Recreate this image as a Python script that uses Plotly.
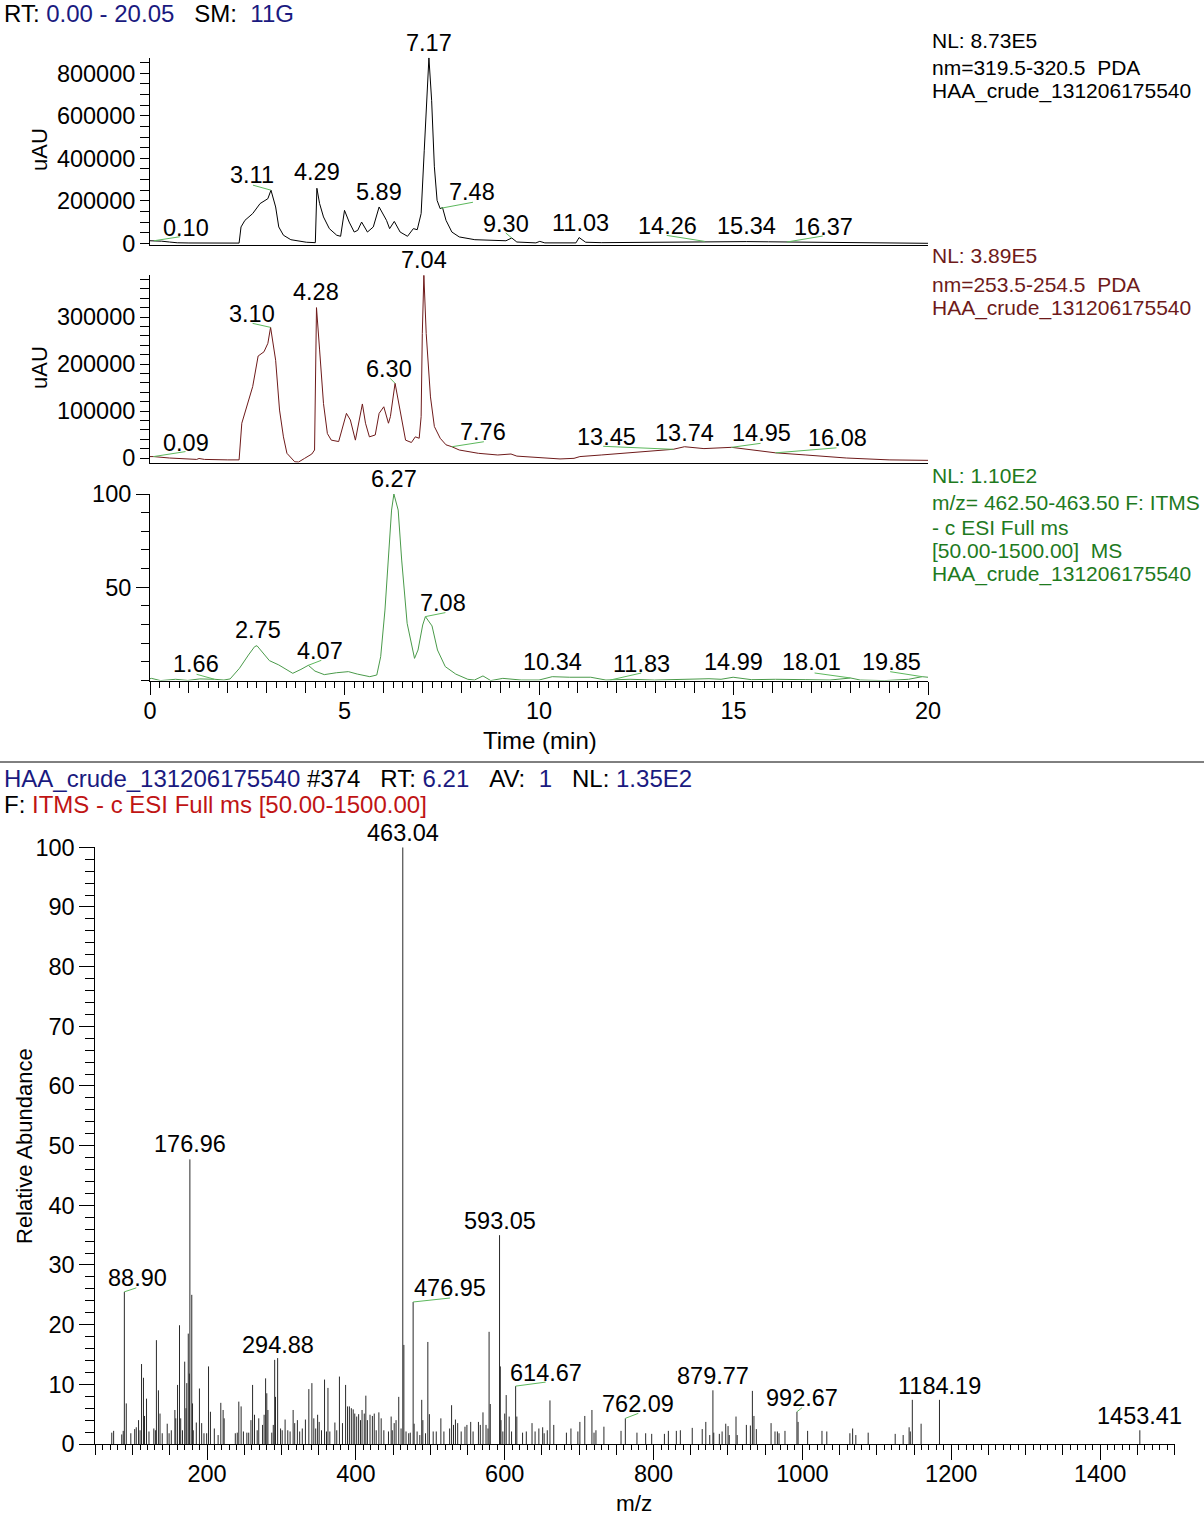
import plotly.graph_objects as go

W, H = 1204, 1523

# ---------------- data ----------------
# PDA 319.5-320.5 nm chromatogram (time min, intensity uAU)
uv320_t = [0.00, 0.10, 0.30, 0.50, 0.70, 1.00, 1.50, 2.00, 2.29, 2.34, 2.44, 2.64, 2.83, 3.03, 3.11,
           3.23, 3.31, 3.43, 3.62, 4.02, 4.25, 4.29, 4.36, 4.46, 4.61, 4.80, 4.90, 5.00, 5.12, 5.25,
           5.34, 5.44, 5.59, 5.74, 5.89, 6.08, 6.16, 6.28, 6.43, 6.62, 6.77, 6.87, 6.97, 7.05, 7.12,
           7.17, 7.24, 7.31, 7.38, 7.46, 7.52, 7.61, 7.76, 7.95, 8.35, 8.94, 9.15, 9.30, 9.43, 9.92,
           10.02, 10.15, 10.95, 11.03, 11.20, 11.60, 12.50, 13.50, 14.26, 14.80, 15.34, 15.90, 16.37,
           17.00, 18.00, 19.00, 20.00]
uv320_i = [12000, 12000, 10000, 6000, 2500, 1500, 1000, 800, 1000, 77000, 108000, 140000, 187000, 210000, 250000,
           171000, 77000, 38000, 17000, 5000, 3000, 259000, 187000, 124000, 69000, 38000, 33000, 155000, 100000, 53000,
           61000, 100000, 53000, 77000, 171000, 108000, 69000, 103000, 53000, 33000, 69000, 64000, 140000, 438000, 673000,
           873000, 673000, 360000, 202000, 163000, 168000, 108000, 53000, 30000, 17000, 11000, 12000, 25000, 6000, 2000,
           9000, 2000, 2000, 27000, 5000, 3000, 4000, 6000, 9000, 8000, 8000, 7000, 6000,
           4000, 2500, 1000, 0]

# PDA 253.5-254.5 nm chromatogram
uv254_t = [0.00, 0.09, 0.50, 0.87, 1.20, 1.26, 1.40, 2.00, 2.29, 2.36, 2.44, 2.64, 2.78, 2.93, 3.03,
           3.10, 3.23, 3.33, 3.43, 3.52, 3.72, 3.82, 3.97, 4.16, 4.23, 4.28, 4.36, 4.46, 4.56, 4.66,
           4.85, 5.05, 5.15, 5.28, 5.46, 5.54, 5.64, 5.79, 5.89, 6.01, 6.13, 6.18, 6.30, 6.43, 6.57,
           6.72, 6.82, 6.92, 6.97, 7.00, 7.04, 7.10, 7.21, 7.31, 7.46, 7.61, 7.76, 7.95, 8.44, 8.94,
           9.28, 9.43, 9.92, 10.54, 10.90, 11.05, 11.60, 12.65, 13.45, 13.74, 14.24, 14.95, 15.80, 16.08,
           16.86, 17.90, 19.00, 20.00]
uv254_i = [3000, 3000, 0, -1000, -3000, -1000, -3000, -4000, -4000, 74000, 95000, 152000, 217000, 226000, 244000,
           278000, 208000, 102000, 45000, 10000, -8000, -8500, -1000, 8500, 17000, 320000, 230000, 116000, 52000, 38000,
           35000, 95000, 81000, 38000, 115000, 74000, 45000, 49000, 95000, 109000, 74000, 88000, 159000, 102000, 38000,
           33000, 45000, 42000, 88000, 265000, 389000, 265000, 130000, 67000, 42000, 28000, 24000, 17000, 10000, 6400,
           8500, 4000, 1400, -2000, -700, 3000, 6400, 13000, 18500, 24000, 20000, 22700, 13500, 11000,
           6400, 0, -4000, -5000]

# XIC m/z 462.50-463.50 (relative abundance)
xic_t = [0.00, 0.04, 0.27, 0.66, 0.97, 1.28, 1.66, 1.90, 2.06, 2.30, 2.53, 2.69, 2.75, 2.87, 3.07,
         3.31, 3.67, 3.88, 4.07, 4.24, 4.48, 4.79, 5.10, 5.33, 5.65, 5.83, 5.93, 6.04, 6.13, 6.21,
         6.27, 6.38, 6.47, 6.61, 6.80, 6.89, 7.01, 7.08, 7.25, 7.39, 7.59, 7.86, 8.17, 8.34, 8.56,
         8.76, 9.07, 9.54, 10.00, 10.34, 10.79, 11.33, 11.72, 12.34, 12.97, 13.59, 14.37, 14.68, 14.99,
         15.46, 16.08, 16.86, 17.48, 18.01, 18.26, 18.88, 19.50, 19.85, 20.00]
xic_i = [1.0, 1.2, 0.0, 0.7, 0.1, 0.9, 0.7, 0.3, 0.9, 6.6, 13.7, 18.2, 18.7, 15.5, 10.7,
         8.4, 3.9, 6.0, 8.2, 5.1, 3.2, 4.2, 4.8, 3.5, 2.1, 3.0, 12.8, 37.8, 68.2, 91.4,
         100.0, 91.4, 64.6, 30.7, 11.9, 16.4, 29.8, 34.3, 29.3, 16.4, 7.5, 3.5, 0.7, 0.3, 2.5,
         0.0, 1.2, 0.3, 0.3, 2.1, 1.8, 1.8, 0.3, 0.7, 0.3, 0.7, 1.0, 0.7, 1.8,
         0.5, 0.7, 0.5, 0.3, 1.4, 0.3, 0.0, 0.7, 2.1, 1.8]

# Mass spectrum, scan #374 (m/z, relative abundance)
ms_mz = [72.0, 74.5, 85.4, 87.4, 88.90, 91.5, 97.6, 102.8, 104.9, 108.0,
         110.0, 112.0, 114.6, 116.0, 118.7, 122.0, 128.5, 130.6, 132.0, 134.7,
         136.8, 139.8, 146.5, 149.0, 152.0, 156.8, 158.0, 160.4, 163.0, 164.6,
         167.0, 170.0, 171.7, 172.8, 174.8, 176.3, 176.96, 179.5, 180.5, 181.5,
         185.6, 189.8, 192.8, 195.9, 199.5, 202.0, 204.6, 209.8, 214.9, 218.5,
         221.6, 223.0, 238.0, 240.6, 242.7, 245.8, 248.9, 253.5, 256.0, 259.0,
         261.2, 263.8, 267.4, 269.5, 274.6, 276.7, 278.7, 280.3, 281.8, 287.0,
         289.0, 290.9, 292.0, 294.88, 298.8, 301.0, 304.9, 308.5, 311.6, 315.7,
         317.8, 321.4, 324.5, 328.0, 332.2, 336.8, 340.9, 343.5, 346.0, 348.6,
         350.7, 353.8, 357.9, 360.5, 362.5, 365.0, 371.8, 374.3, 377.9, 382.0,
         386.2, 388.8, 391.3, 393.9, 396.4, 398.5, 401.1, 403.7, 406.2, 408.3,
         411.3, 413.4, 415.5, 419.0, 422.2, 424.7, 427.3, 430.9, 434.0, 437.6,
         443.8, 447.4, 448.9, 451.5, 454.0, 457.6, 460.7, 463.04, 464.5, 467.4,
         471.0, 473.1, 476.95, 478.3, 482.3, 485.9, 488.5, 490.0, 493.6, 496.7,
         498.8, 503.9, 508.0, 514.2, 518.3, 526.0, 528.6, 531.2, 533.8, 536.8,
         541.5, 546.6, 549.2, 554.3, 557.5, 564.7, 567.2, 570.8, 574.9, 577.5,
         579.0, 580.6, 593.05, 594.1, 595.0, 597.5, 600.0, 602.0, 606.0, 609.2,
         614.67, 616.3, 624.0, 629.0, 636.7, 640.8, 645.9, 651.0, 653.0, 657.2,
         660.8, 665.9, 682.9, 689.0, 698.3, 701.0, 707.6, 717.2, 720.0, 722.6,
         733.3, 756.3, 762.09, 777.7, 789.4, 797.5, 814.6, 819.9, 830.6, 836.0,
         852.0, 865.4, 870.2, 875.5, 879.77, 880.9, 888.4, 892.1, 897.0, 900.1,
         901.7, 910.8, 912.4, 924.7, 930.1, 932.8, 934.9, 938.1, 957.9, 963.2,
         966.4, 968.6, 976.6, 992.67, 994.2, 1007.0, 1026.3, 1032.8, 1063.8, 1067.5,
         1071.8, 1088.4, 1124.7, 1135.4, 1143.4, 1145.0, 1147.7, 1159.5, 1184.19, 1453.41]
ms_abund = [1.9, 2.2, 1.6, 2.2, 25.5, 6.8, 1.8, 2.5, 2.8, 4.0,
            2.3, 13.4, 11.1, 4.7, 7.6, 2.1, 2.6, 2.3, 17.4, 9.0,
            5.1, 1.8, 3.4, 1.8, 2.3, 5.7, 4.3, 9.9, 19.9, 4.3,
            2.3, 13.8, 6.0, 10.2, 18.5, 11.8, 47.7, 25.0, 6.8, 2.3,
            3.6, 9.3, 3.5, 1.8, 1.8, 13.0, 5.4, 2.6, 1.5, 6.9,
            5.7, 4.3, 1.8, 1.9, 7.1, 6.3, 2.1, 1.9, 1.9, 4.0,
            9.9, 4.9, 2.3, 4.3, 3.2, 4.9, 11.0, 8.5, 5.7, 1.9,
            3.2, 14.1, 7.9, 14.4, 2.6, 2.3, 4.1, 2.3, 2.1, 5.7,
            3.5, 4.0, 2.1, 2.6, 4.1, 9.2, 10.2, 4.3, 2.6, 4.9,
            3.7, 2.3, 10.8, 2.1, 9.4, 2.1, 3.6, 2.3, 11.3, 3.5,
            9.9, 6.3, 6.3, 6.0, 5.8, 5.1, 4.6, 5.0, 4.0, 5.7,
            5.1, 8.1, 4.0, 4.9, 4.7, 5.1, 2.3, 5.3, 4.3, 2.3,
            2.1, 4.6, 2.3, 3.5, 4.0, 7.9, 2.6, 100.0, 16.6, 2.1,
            1.8, 1.9, 23.8, 3.4, 2.1, 1.5, 7.4, 4.0, 1.8, 17.1,
            5.0, 2.1, 2.1, 4.3, 2.1, 2.6, 6.5, 3.2, 4.1, 3.5,
            2.1, 2.9, 3.2, 3.7, 2.1, 3.7, 3.2, 5.3, 3.2, 2.6,
            18.8, 6.7, 35.0, 13.0, 4.0, 2.1, 5.1, 8.2, 4.6, 2.1,
            9.7, 4.6, 1.9, 2.1, 3.5, 2.1, 2.6, 2.8, 1.8, 2.3,
            7.3, 3.2, 1.9, 2.6, 2.1, 3.7, 4.7, 5.7, 1.9, 2.3,
            2.9, 2.2, 4.3, 1.9, 1.8, 1.7, 1.7, 2.2, 2.2, 2.3,
            2.7, 2.5, 3.7, 1.5, 9.0, 1.9, 1.7, 2.1, 3.4, 3.0,
            1.5, 4.6, 1.5, 3.2, 3.1, 8.9, 4.7, 2.5, 3.5, 2.1,
            2.1, 1.8, 2.2, 5.4, 3.7, 2.2, 2.2, 2.1, 1.8, 2.6,
            1.5, 1.9, 1.7, 1.5, 2.8, 2.1, 7.4, 3.4, 7.4, 2.3]

# peak labels (label value = position; heights)
uv320_lbl = [0.10, 3.11, 4.29, 5.89, 7.17, 7.48, 9.30, 11.03, 14.26, 15.34, 16.37]
uv320_lbl_h = [12000, 250000, 259000, 171000, 873000, 165000, 25000, 27000, 9000, 8000, 6000]
uv254_lbl = [0.09, 3.10, 4.28, 6.30, 7.04, 7.76, 13.45, 13.74, 14.95, 16.08]
uv254_lbl_h = [3000, 278000, 320000, 159000, 389000, 24000, 18500, 24000, 22700, 11000]
xic_lbl = [1.66, 2.75, 4.07, 6.27, 7.08, 10.34, 11.83, 14.99, 18.01, 19.85]
xic_lbl_h = [0.7, 18.7, 8.2, 100.0, 34.3, 2.1, 0.3, 1.8, 1.4, 2.1]
ms_lbl = [88.90, 176.96, 294.88, 463.04, 476.95, 593.05, 614.67, 762.09, 879.77, 992.67, 1184.19, 1453.41]
ms_lbl_h = [25.5, 47.7, 14.4, 100.0, 23.8, 35.0, 9.7, 4.3, 9.0, 5.4, 7.4, 2.3]

# ---------------- styling (pixel offsets of label text / leader ends) ----------------
uv320_off = [(32, -13, 26, -4), (-19, -15, -18, -5), (0, -16, None, None), (0, -15, None, None),
             (0, -15, None, None), (31, -16, 32, -6), (-6, -14, -6, -5), (1, -15, None, None),
             (-37, -15, -38, -6), (0, -16, None, None), (37, -15, 36, -6)]
uv254_off = [(32, -14, 32, -5), (-19, -13, -18, -4), (0, -16, None, None), (-6, -14, -5, -5),
             (0, -15, None, None), (31, -15, 32, -5), (-67, -12, -70, -3), (0, -14, None, None),
             (30, -14, 29, -4), (62, -15, 61, -5)]
xic_off = [(-19, -15, -18, -5), (1, -16, None, None), (12, -14, 13, -5), (0, -15, None, None),
           (18, -14, 20, -4), (0, -15, None, None), (31, -16, 31, -7), (0, -15, None, None),
           (-39, -16, -36, -5), (-31, -15, -32, -5)]
ms_off = [(13, -14, 12, -4), (0, -15, None, None), (0, -13, None, None), (0, -14, None, None),
          (37, -14, 37, -4), (0, -14, None, None), (30, -13, 30, -4), (13, -14, 13, -5),
          (0, -14, None, None), (5, -14, 5, -4), (0, -14, None, None), (0, -14, None, None)]

FONT = "Arial, 'Liberation Sans', sans-serif"
FS_NUM = 23.5     # tick labels and peak labels
FS_HEAD = 24      # header lines
FS_SIDE = 21      # right-hand info text
NAVY = "#1a1a80"
MAROON = "#6e1a1a"
GREEN_LINE = "#4a9a4a"
GREEN_TXT = "#1e7a1e"
LEADER = "#5cb85c"
RED = "#c01414"


def pyf(p):
    return 1 - p / H


def pxf(p):
    return p / W


fig = go.Figure()

fig.add_trace(go.Scatter(x=uv320_t, y=uv320_i, mode="lines", line=dict(color="black", width=1),
                         xaxis="x", yaxis="y", showlegend=False, hoverinfo="skip"))
fig.add_trace(go.Scatter(x=uv254_t, y=uv254_i, mode="lines", line=dict(color=MAROON, width=1),
                         xaxis="x2", yaxis="y2", showlegend=False, hoverinfo="skip"))
fig.add_trace(go.Scatter(x=xic_t, y=xic_i, mode="lines", line=dict(color=GREEN_LINE, width=1),
                         xaxis="x3", yaxis="y3", showlegend=False, hoverinfo="skip"))

sx, sy = [], []
for m, a in zip(ms_mz, ms_abund):
    sx += [m, m, None]
    sy += [0, a, None]
fig.add_trace(go.Scatter(x=sx, y=sy, mode="lines", line=dict(color="#2a2a2a", width=1),
                         xaxis="x4", yaxis="y4", showlegend=False, hoverinfo="skip"))
# dummy traces for the medium-tick overlay axes
fig.add_trace(go.Scatter(x=[None], y=[None], xaxis="x5", yaxis="y3", showlegend=False, hoverinfo="skip"))
fig.add_trace(go.Scatter(x=[None], y=[None], xaxis="x6", yaxis="y4", showlegend=False, hoverinfo="skip"))

tf = dict(family=FONT, size=FS_NUM, color="black")
cx_dom = [pxf(150), pxf(928)]
ms_dom = [pxf(95.4), pxf(1174.5)]
base_y = dict(showgrid=False, zeroline=False, showline=True, linecolor="black", linewidth=1,
              ticks="outside", tickcolor="black", tickfont=tf, tickformat="d", automargin=False)
base_x = dict(showgrid=False, zeroline=False, showline=True, linecolor="black", linewidth=1,
              automargin=False)

fig.update_layout(
    template="none",
    width=W, height=H, margin=dict(l=0, r=0, t=0, b=0, pad=0, autoexpand=False), autosize=False,
    paper_bgcolor="white", plot_bgcolor="white", font=dict(family=FONT, size=FS_NUM, color="black"),
    showlegend=False,
    xaxis=dict(base_x, domain=cx_dom, range=[0, 20], anchor="y", ticks="", showticklabels=False),
    yaxis=dict(base_y, domain=[pyf(245), pyf(57.8)], range=[-8000, 873000], anchor="x",
               tick0=0, dtick=200000, ticklen=9,
               minor=dict(tick0=0, dtick=50000, ticks="outside", ticklen=9, tickcolor="black")),
    xaxis2=dict(base_x, domain=cx_dom, range=[0, 20], anchor="y2", ticks="", showticklabels=False),
    yaxis2=dict(base_y, domain=[pyf(462.7), pyf(275.2)], range=[-10000, 389000], anchor="x2",
                tick0=0, dtick=100000, ticklen=9,
                minor=dict(tick0=0, dtick=20000, ticks="outside", ticklen=9, tickcolor="black")),
    xaxis3=dict(base_x, domain=cx_dom, range=[0, 20], anchor="y3", ticks="outside", tickcolor="black",
                tick0=0, dtick=5, ticklen=13, tickfont=tf, ticklabelstandoff=-4,
                minor=dict(tick0=0, dtick=0.25, ticks="outside", ticklen=6, tickcolor="black")),
    yaxis3=dict(base_y, domain=[pyf(680.6), pyf(494)], range=[0, 100], anchor="x3",
                tickvals=[50, 100], ticklen=13,
                minor=dict(tick0=0, dtick=10, ticks="outside", ticklen=8, tickcolor="black")),
    xaxis5=dict(overlaying="x3", anchor="y3", domain=cx_dom, range=[0, 20], showgrid=False,
                zeroline=False, showline=False, ticks="outside", tickcolor="black", tick0=0, dtick=1,
                ticklen=11, showticklabels=False, side="bottom", automargin=False),
    xaxis4=dict(base_x, domain=ms_dom, range=[50, 1500], anchor="y4",
                ticks="outside", tickcolor="black", tick0=0, dtick=200, ticklen=15, tickfont=tf,
                ticklabelstandoff=-6,
                minor=dict(tick0=0, dtick=10, ticks="outside", ticklen=5, tickcolor="black")),
    yaxis4=dict(base_y, domain=[pyf(1444), pyf(847.3)], range=[0, 100], anchor="x4",
                tick0=0, dtick=10, ticklen=15,
                minor=dict(tick0=0, dtick=2, ticks="outside", ticklen=9, tickcolor="black")),
    xaxis6=dict(overlaying="x4", anchor="y4", domain=ms_dom, range=[50, 1500], showgrid=False,
                zeroline=False, showline=False, ticks="outside", tickcolor="black", tick0=0, dtick=50,
                ticklen=10, showticklabels=False, side="bottom", automargin=False),
)

annotations = []
shapes = []


def add_labels(xr, yr, pos, hts, offs):
    for p, h, (dx, dy, lx, ly) in zip(pos, hts, offs):
        txt = f"{p:.2f}"
        annotations.append(dict(x=p, y=h, xref=xr, yref=yr, text=txt, showarrow=False,
                                xshift=dx, yshift=-dy, xanchor="center", yanchor="middle",
                                font=dict(family=FONT, size=FS_NUM, color="black")))
        if lx is not None:
            shapes.append(dict(type="line", xref=xr, yref=yr, xsizemode="pixel", ysizemode="pixel",
                               xanchor=p, yanchor=h, x0=0, y0=0, x1=lx, y1=-ly,
                               line=dict(color=LEADER, width=1)))


add_labels("x", "y", uv320_lbl, uv320_lbl_h, uv320_off)
add_labels("x2", "y2", uv254_lbl, uv254_lbl_h, uv254_off)
add_labels("x3", "y3", xic_lbl, xic_lbl_h, xic_off)
add_labels("x4", "y4", ms_lbl, ms_lbl_h, ms_off)


def ptext(x, y, text, color="black", anchor="left", angle=0, size=FS_SIDE):
    annotations.append(dict(x=pxf(x), y=pyf(y), xref="paper", yref="paper", text=text,
                            showarrow=False, xanchor=anchor, yanchor="middle", textangle=angle,
                            font=dict(family=FONT, size=size, color=color)))


NB = "\u00a0"
ptext(2, 14, f"RT:{NB}<span style='color:{NAVY}'>0.00 - 20.05</span>{NB*3}SM:{NB*2}"
              f"<span style='color:{NAVY}'>11G</span>", size=FS_HEAD)

ptext(930, 40, "NL: 8.73E5")
ptext(930, 67, f"nm=319.5-320.5{NB*2}PDA")
ptext(930, 91, "HAA_crude_131206175540")

ptext(930, 256, "NL: 3.89E5", MAROON)
ptext(930, 284, f"nm=253.5-254.5{NB*2}PDA", MAROON)
ptext(930, 308, "HAA_crude_131206175540", MAROON)

ptext(930, 475, "NL: 1.10E2", GREEN_TXT)
ptext(930, 502, "m/z= 462.50-463.50 F: ITMS", GREEN_TXT)
ptext(930, 527, "- c ESI Full ms", GREEN_TXT)
ptext(930, 550, f"[50.00-1500.00]{NB*2}MS", GREEN_TXT)
ptext(930, 574, "HAA_crude_131206175540", GREEN_TXT)

ptext(40, 150, "uAU", anchor="center", angle=-90, size=22)
ptext(40, 368, "uAU", anchor="center", angle=-90, size=22)
ptext(540, 741, "Time (min)", anchor="center", size=FS_HEAD)

ptext(2, 778, f"<span style='color:{NAVY}'>HAA_crude_131206175540</span> #374{NB*3}RT:{NB}"
              f"<span style='color:{NAVY}'>6.21</span>{NB*3}AV:{NB*2}<span style='color:{NAVY}'>1</span>"
              f"{NB*3}NL:{NB}<span style='color:{NAVY}'>1.35E2</span>", size=FS_HEAD)
ptext(2, 804, f"F:{NB}<span style='color:{RED}'>ITMS - c ESI Full ms [50.00-1500.00]</span>",
      size=FS_HEAD)

ptext(24, 1146, "Relative Abundance", anchor="center", angle=-90, size=22)
ptext(634, 1503, "m/z", anchor="center", size=22.5)

shapes.append(dict(type="line", xref="paper", yref="paper", x0=0, x1=1, y0=pyf(762), y1=pyf(762),
                   line=dict(color="black", width=1)))

fig.update_layout(annotations=annotations, shapes=shapes)
post = ("document.body.style.margin='0';document.body.style.padding='0';"
        "document.documentElement.style.overflow='hidden';")
fig.write_html("out.html", config={"displayModeBar": False}, post_script=post)
